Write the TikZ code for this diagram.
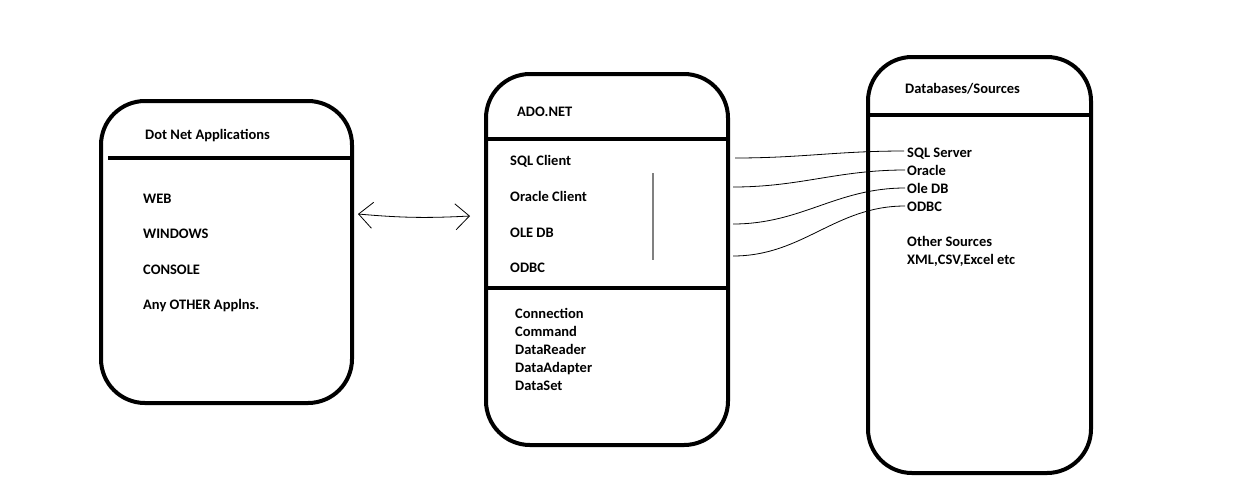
\documentclass[tikz,border=0pt]{standalone}
\usepackage{fontspec}
\setmainfont{Carlito}
\usetikzlibrary{arrows.meta}

\begin{document}
\begin{tikzpicture}[x=1pt, y=-1pt,
		panel/.style={rectangle, draw, line width=4pt, rounded corners=44pt, inner sep=0pt},
		entry/.style={anchor=base west, yshift=-5pt, inner sep=0pt, font=\bfseries\fontsize{14.5}{17}\selectfont},
		divider/.style={line width=4pt},
		link/.style={line width=0.8pt}]
		\useasboundingbox (0,0) rectangle (1257,491);
		
		% the three panels
		\node (apps) [panel, minimum width=251pt, minimum height=302pt] at (226.5,252) {};
		\node (ado) [panel, minimum width=242pt, minimum height=371pt] at (607,259.5) {};
		\node (sources) [panel, minimum width=223pt, minimum height=416pt] at (979.5,265) {};
		
		\draw [divider] (108,158) -- (353,158);
		\draw [divider] (486,139) -- (728,139);
		\draw [divider] (484,288) -- (728,288);
		\draw [divider] (868,115) -- (1092,115);
		\draw [gray, line width=2pt] (653,173) -- (653,260);
		
		% dot net applications
		\node (appstitle) [entry] at (145,134) {Dot Net Applications};
		\node (web) [entry] at (143,198) {WEB};
		\node (windows) [entry] at (143,233) {WINDOWS};
		\node (console) [entry] at (143,269) {CONSOLE};
		\node (other) [entry] at (143,304) {Any OTHER Applns.};
		
		% ado.net
		\node (adotitle) [entry] at (517,111) {ADO.NET};
		\node (sqlclient) [entry] at (510,160) {SQL Client};
		\node (oraclient) [entry] at (510,196) {Oracle Client};
		\node (oledb) [entry] at (510,232) {OLE DB};
		\node (odbc) [entry] at (510,267) {ODBC};
		\node (connection) [entry] at (515,313) {Connection};
		\node (command) [entry] at (515,331) {Command};
		\node (reader) [entry] at (515,349) {DataReader};
		\node (adapter) [entry] at (515,367) {DataAdapter};
		\node (dataset) [entry] at (515,385) {DataSet};
		
		% databases
		\node (srctitle) [entry] at (905,88) {Databases/Sources};
		\node (sqlserver) [entry] at (907,152) {SQL Server};
		\node (oracle) [entry] at (907,170) {Oracle};
		\node (oledbsrc) [entry] at (907,188) {Ole DB};
		\node (odbcsrc) [entry] at (907,206) {ODBC};
		\node (othersrc) [entry] at (907,241) {Other Sources};
		\node (files) [entry] at (907,259) {XML,CSV,Excel etc};
		
		% connectors
		\coordinate (al) at (358,214);
		\coordinate (ar) at (470,216);
		\draw [link, {Straight Barb[length=14pt,width=26pt]}-{Straight Barb[length=14pt,width=26pt]}] (al) to [bend right=4] (ar);
		
		\coordinate (p1) at (735,158);
		\coordinate (p2) at (733,187);
		\coordinate (p3) at (733,224);
		\coordinate (p4) at (733,256);
		\coordinate (q1) at (904,151);
		\coordinate (q2) at (905,170);
		\coordinate (q3) at (905,188);
		\coordinate (q4) at (905,206);
		\draw [link] (p1) to [out=0, in=180] (q1);
		\draw [link] (p2) to [out=0, in=180] (q2);
		\draw [link] (p3) to [out=0, in=180] (q3);
		\draw [link] (p4) to [out=0, in=180] (q4);
		
		\end{tikzpicture}
\end{document}
